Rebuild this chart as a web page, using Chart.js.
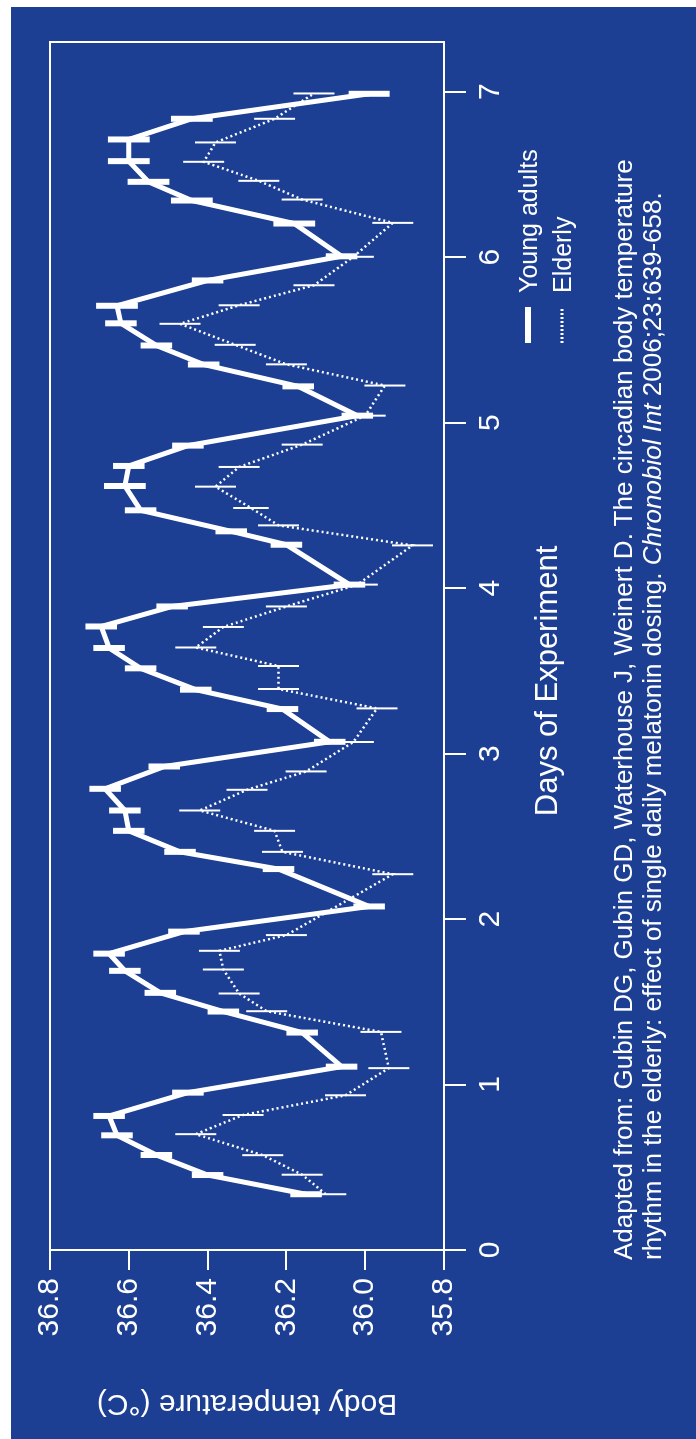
<!DOCTYPE html>
<html>
<head>
<meta charset="utf-8">
<script src="https://cdn.jsdelivr.net/npm/chart.js@4.4.1/dist/chart.umd.min.js"></script>
<style>
  html, body { margin: 0; padding: 0; width: 696px; height: 1439px; overflow: hidden; background: #fff; }
  /* chart is laid out landscape, then turned a quarter turn to the left */
  #stage {
    position: absolute; left: 0; top: 1439px;
    width: 1439px; height: 696px;
    transform-origin: 0 0; transform: rotate(-90deg);
    background: #fff;
    font-family: "Liberation Sans", Arial, sans-serif;
  }
  #panel { position: absolute; left: 0; top: 11px; width: 1432px; height: 685px; background: #1c3f94; }
  #chart { position: absolute; left: 0; top: 0; }
  #caption {
    position: absolute; left: 179px; top: 609px;
    color: #fff; font-size: 26px; line-height: 29px; white-space: nowrap;
  }
</style>
</head>
<body>
<div id="stage">
  <div id="panel"></div>
  <canvas id="chart" width="1439" height="696"></canvas>
  <div id="caption">Adapted from: Gubin DG, Gubin GD, Waterhouse J, Weinert D. The circadian body temperature<br>rhythm in the elderly: effect of single daily melatonin dosing. <i>Chronobiol Int</i> 2006;23:639-658.</div>
</div>
<script>
/* ================================
   Data
================================ */
const dayTicks = [0, 1, 2, 3, 4, 5, 6, 7];
const tempTicks = [35.8, 36.0, 36.2, 36.4, 36.6, 36.8];

const youngDays = [0.337, 0.453, 0.574, 0.693, 0.810, 0.951, 1.108, 1.314, 1.441, 1.554,
  1.687, 1.791, 1.924, 2.076, 2.302, 2.406, 2.533, 2.656, 2.787, 2.922,
  3.071, 3.269, 3.386, 3.515, 3.638, 3.768, 3.889, 4.021, 4.262, 4.343,
  4.470, 4.617, 4.738, 4.861, 5.042, 5.219, 5.351, 5.466, 5.600, 5.706,
  5.859, 6.005, 6.203, 6.342, 6.455, 6.580, 6.711, 6.836, 6.987];
const youngTemp = [36.15, 36.40, 36.53, 36.63, 36.65, 36.45, 36.06, 36.16, 36.36, 36.52,
  36.61, 36.65, 36.46, 35.99, 36.22, 36.47, 36.60, 36.61, 36.66, 36.51,
  36.09, 36.21, 36.43, 36.57, 36.65, 36.67, 36.49, 36.04, 36.20, 36.34,
  36.57, 36.61, 36.60, 36.45, 36.02, 36.17, 36.41, 36.53, 36.62, 36.63,
  36.40, 36.06, 36.18, 36.44, 36.55, 36.60, 36.60, 36.44, 35.99];
const youngSE = [0.04, 0.04, 0.04, 0.04, 0.04, 0.04, 0.04, 0.04, 0.04, 0.04,
  0.04, 0.04, 0.04, 0.04, 0.04, 0.04, 0.04, 0.04, 0.04, 0.04,
  0.04, 0.04, 0.04, 0.04, 0.04, 0.04, 0.04, 0.04, 0.04, 0.04,
  0.04, 0.053, 0.04, 0.04, 0.04, 0.04, 0.04, 0.04, 0.04, 0.053,
  0.04, 0.04, 0.053, 0.053, 0.053, 0.053, 0.053, 0.053, 0.052];

const elderlyDays = [0.337, 0.455, 0.573, 0.700, 0.816, 0.935, 1.099, 1.318, 1.443, 1.550,
  1.695, 1.808, 1.903, 2.271, 2.406, 2.533, 2.656, 2.781, 2.892, 3.070,
  3.273, 3.390, 3.529, 3.641, 3.765, 3.889, 4.021, 4.258, 4.379, 4.484,
  4.613, 4.732, 4.867, 5.042, 5.224, 5.352, 5.470, 5.597, 5.709, 5.830,
  6.002, 6.207, 6.348, 6.461, 6.576, 6.693, 6.836, 6.989];
const elderlyTemp = [36.10, 36.16, 36.26, 36.43, 36.31, 36.05, 35.94, 35.96, 36.25, 36.32,
  36.36, 36.37, 36.20, 35.93, 36.21, 36.23, 36.42, 36.30, 36.15, 36.03,
  35.97, 36.22, 36.22, 36.43, 36.36, 36.20, 36.02, 35.88, 36.22, 36.29,
  36.38, 36.32, 36.16, 36.00, 35.95, 36.20, 36.33, 36.47, 36.32, 36.13,
  36.03, 35.93, 36.16, 36.27, 36.41, 36.38, 36.23, 36.13];
const elderlySE = [0.052, 0.052, 0.052, 0.052, 0.052, 0.052, 0.052, 0.052, 0.052, 0.052,
  0.052, 0.052, 0.052, 0.052, 0.052, 0.052, 0.052, 0.052, 0.052, 0.052,
  0.052, 0.052, 0.052, 0.052, 0.052, 0.052, 0.052, 0.052, 0.052, 0.045,
  0.052, 0.052, 0.052, 0.052, 0.052, 0.052, 0.052, 0.052, 0.052, 0.052,
  0.052, 0.052, 0.052, 0.052, 0.052, 0.052, 0.052, 0.052];

const FONT = '"Liberation Sans", Arial, sans-serif';
const WHITE = '#ffffff';

function toPoints(xs, ys) {
  return xs.map((x, i) => ({ x: x, y: ys[i] }));
}

/* ================================
   Plugins: error bars, frame, titles, legend
================================ */
const errorBars = {
  id: 'errorBars',
  afterDatasetsDraw(chart) {
    const ctx = chart.ctx;
    const xs = chart.scales.x, ys = chart.scales.y;
    chart.data.datasets.forEach(ds => {
      ctx.save();
      ctx.strokeStyle = WHITE;
      ctx.lineWidth = ds.barWidth;
      ctx.lineCap = 'butt';
      ds.data.forEach((p, i) => {
        const px = xs.getPixelForValue(p.x);
        ctx.beginPath();
        ctx.moveTo(px, ys.getPixelForValue(p.y - ds.se[i]));
        ctx.lineTo(px, ys.getPixelForValue(p.y + ds.se[i]));
        ctx.stroke();
      });
      ctx.restore();
    });
  }
};

const decorations = {
  id: 'decorations',
  afterDraw(chart) {
    const ctx = chart.ctx;
    const a = chart.chartArea;
    ctx.save();
    ctx.strokeStyle = WHITE;
    ctx.lineWidth = 2;
    ctx.strokeRect(a.left, a.top, a.right - a.left, a.bottom - a.top);

    ctx.fillStyle = WHITE;
    // x axis title
    ctx.font = '31px ' + FONT;
    ctx.textAlign = 'center';
    ctx.textBaseline = 'alphabetic';
    ctx.fillText('Days of Experiment', 758, 557);

    // y axis title
    ctx.save();
    ctx.translate(44, (a.top + a.bottom) / 2);
    ctx.rotate(-Math.PI / 2);
    ctx.font = '30px ' + FONT;
    ctx.fillText('Body temperature (\u00B0C)', 0, 0);
    ctx.restore();

    // legend
    const rows = [{ y: 528, text: chart.data.datasets[0].label, w: 6, dash: [] },
                  { y: 562, text: chart.data.datasets[1].label, w: 3, dash: [2, 2] }];
    ctx.font = '25px ' + FONT;
    ctx.textAlign = 'left';
    rows.forEach(r => {
      ctx.beginPath();
      ctx.lineWidth = r.w;
      ctx.setLineDash(r.dash);
      ctx.moveTo(1096, r.y);
      ctx.lineTo(1132, r.y);
      ctx.stroke();
      ctx.setLineDash([]);
      ctx.fillText(r.text, 1146, r.y + 9);
    });
    ctx.restore();
  }
};

/* ================================
   Chart
================================ */
Chart.defaults.color = WHITE;
Chart.defaults.font.family = FONT;

new Chart(document.getElementById('chart').getContext('2d'), {
  type: 'line',
  data: {
    datasets: [{
      label: 'Young adults',
      data: toPoints(youngDays, youngTemp),
      se: youngSE,
      barWidth: 6,
      borderColor: WHITE,
      borderWidth: 5,
      borderJoinStyle: 'miter',
      pointRadius: 0,
      fill: false
    }, {
      label: 'Elderly',
      data: toPoints(elderlyDays, elderlyTemp),
      se: elderlySE,
      barWidth: 2,
      borderColor: WHITE,
      borderWidth: 2.5,
      borderDash: [2, 3],
      pointRadius: 0,
      fill: false
    }]
  },
  options: {
    responsive: false,
    animation: false,
    events: [],
    layout: { padding: { left: 0, right: 42, top: 50, bottom: 0 } },
    plugins: { legend: { display: false }, tooltip: { enabled: false } },
    scales: {
      x: {
        type: 'linear',
        min: 0,
        max: 7.3,
        afterFit: s => { s.height = 252; },
        afterBuildTicks: s => { s.ticks = dayTicks.map(v => ({ value: v })); },
        ticks: { includeBounds: false, color: WHITE, font: { size: 30 }, padding: 7, maxRotation: 0,
                 callback: v => String(v) },
        grid: { drawOnChartArea: false, drawTicks: true, tickLength: 22, color: WHITE, lineWidth: 2 },
        border: { display: true, color: WHITE, width: 2 }
      },
      y: {
        type: 'linear',
        min: 35.8,
        max: 36.8,
        afterFit: s => { s.width = 189; },
        afterBuildTicks: s => { s.ticks = tempTicks.map(v => ({ value: v })); },
        ticks: { color: WHITE, font: { size: 30 }, padding: 8, callback: v => Number(v).toFixed(1) },
        grid: { drawOnChartArea: false, drawTicks: true, tickLength: 20, color: WHITE, lineWidth: 2 },
        border: { display: true, color: WHITE, width: 2 }
      }
    }
  },
  plugins: [errorBars, decorations]
});
</script>
</body>
</html>
